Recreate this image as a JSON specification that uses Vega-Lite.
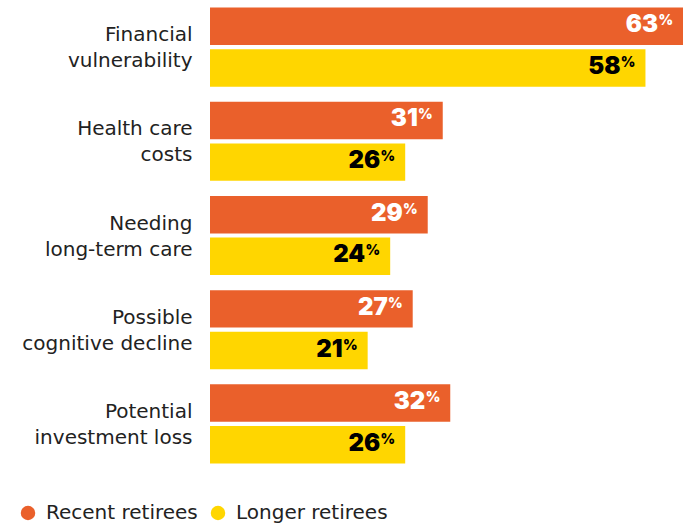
{
  "$schema": "https://vega.github.io/schema/vega-lite/v6.json",
  "autosize": {"type": "none"},
  "padding": {"left": 210, "top": 0, "right": 4, "bottom": 52},
  "width": 473,
  "height": 471,
  "background": "white",
  "config": {"view": {"stroke": null}, "font": "DejaVu Sans"},
  "data": {
    "values": [
      {"category": "Financial\nvulnerability", "series": "Recent retirees", "value": 63},
      {"category": "Financial\nvulnerability", "series": "Longer retirees", "value": 58},
      {"category": "Health care\ncosts", "series": "Recent retirees", "value": 31},
      {"category": "Health care\ncosts", "series": "Longer retirees", "value": 26},
      {"category": "Needing\nlong-term care", "series": "Recent retirees", "value": 29},
      {"category": "Needing\nlong-term care", "series": "Longer retirees", "value": 24},
      {"category": "Possible\ncognitive decline", "series": "Recent retirees", "value": 27},
      {"category": "Possible\ncognitive decline", "series": "Longer retirees", "value": 21},
      {"category": "Potential\ninvestment loss", "series": "Recent retirees", "value": 32},
      {"category": "Potential\ninvestment loss", "series": "Longer retirees", "value": 26}
    ]
  },
  "encoding": {
    "y": {
      "field": "category", "type": "nominal", "sort": null,
      "scale": {"paddingInner": 0.16, "paddingOuter": 0.08},
      "axis": {
        "title": null, "domain": false, "ticks": false, "labelPadding": 18,
        "labelFontSize": 20, "labelLineHeight": 26, "labelColor": "#222222",
        "labelFont": "DejaVu Sans", "labelLimit": 300, "labelOffset": -12,
        "labelExpr": "split(datum.label, '\\n')"
      }
    },
    "yOffset": {
      "field": "series", "type": "nominal",
      "sort": ["Recent retirees", "Longer retirees"],
      "scale": {"paddingInner": 0.1}
    },
    "x": {
      "field": "value", "type": "quantitative",
      "scale": {"domain": [0, 63], "nice": false, "zero": true},
      "axis": null
    }
  },
  "layer": [
    {
      "mark": {"type": "bar"},
      "encoding": {
        "color": {
          "field": "series", "type": "nominal",
          "scale": {"domain": ["Recent retirees", "Longer retirees"], "range": ["#EA602B", "#FFD600"]},
          "legend": {
            "title": null, "orient": "none", "direction": "horizontal",
            "legendX": -192, "legendY": 503,
            "symbolType": "circle", "symbolSize": 210, "symbolStrokeWidth": 0,
            "labelFontSize": 20, "labelColor": "#222222", "labelFont": "DejaVu Sans",
            "columnPadding": 10, "symbolOffset": 0, "labelOffset": 8
          }
        }
      }
    },
    {
      "mark": {"type": "text", "align": "right", "baseline": "middle", "dx": -25, "dy": -1, "fontSize": 24, "fontWeight": 900, "font": "Inter"},
      "encoding": {
        "text": {"field": "value", "type": "quantitative"},
        "color": {"condition": {"test": "datum.series === 'Recent retirees'", "value": "white"}, "value": "black"}
      }
    },
    {
      "mark": {"type": "text", "align": "right", "baseline": "middle", "dx": -10, "dy": -5, "fontSize": 14, "fontWeight": 900, "font": "Inter", "text": "%"},
      "encoding": {
        "color": {"condition": {"test": "datum.series === 'Recent retirees'", "value": "white"}, "value": "black"}
      }
    }
  ]
}
